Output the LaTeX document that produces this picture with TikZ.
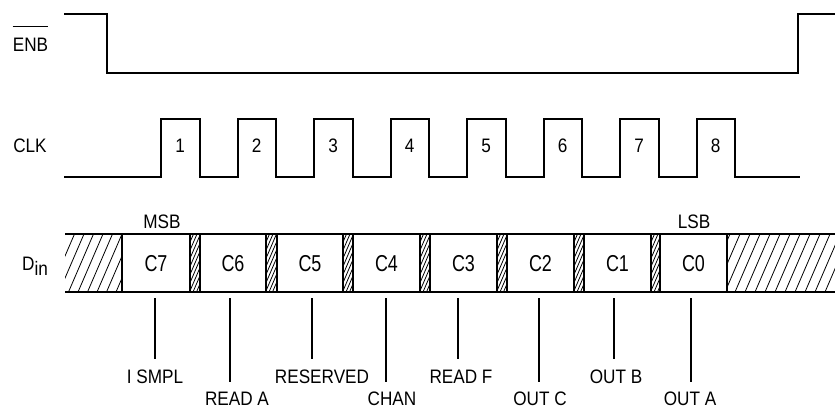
\documentclass[tikz,border=0pt]{standalone}
\usepackage{fontspec}
\setmainfont{Liberation Sans}[FakeStretch=0.88]
\newfontfamily\boxfont{Liberation Sans}[FakeStretch=0.78]
\begin{document}
\begin{tikzpicture}[x=1pt,y=-1pt,
  sig/.style={line width=2pt, line join=miter},
  tick/.style={line width=1.1pt},
  hatchline/.style={line width=0.8pt},
  lbl/.style={font=\fontsize{19.5}{20}\selectfont, inner sep=0pt, anchor=base},
  boxlbl/.style={font=\boxfont\fontsize{23}{24}\selectfont, inner sep=0pt, anchor=base}]
\useasboundingbox (0,0) rectangle (835,408);

% ENB
\draw[sig] (64,14) -- (107,14) -- (107,73) -- (798,73) -- (798,14) -- (835,14);
\node[lbl] (enb) at (30.5,51) {ENB};
\draw[line width=1.1pt] ([yshift=11pt]enb.north west) -- ([yshift=11pt]enb.north east);

% CLK
\node[lbl] (clk) at (30,152) {CLK};
\draw[sig] (64,177) foreach \i in {0,...,7} {
  -- ({161+76.5*\i},177) -- ({161+76.5*\i},119) -- ({199.5+76.5*\i},119) -- ({199.5+76.5*\i},177)
} -- (800,177);
\foreach \i in {0,...,7} {
  \pgfmathtruncatemacro{\n}{\i+1}
  \node[lbl] (p\n) at ({180.25+76.5*\i},152) {\n};
}

% Din hatching
\begin{scope}
  \clip (65,234) rectangle (122,292);
  \foreach \k in {0,...,9} \draw[hatchline] ({40+9.5*\k},292) -- ({65+9.5*\k},234);
\end{scope}
\begin{scope}
  \clip (727,234) rectangle (835,292);
  \foreach \k in {0,...,14} \draw[hatchline] ({705+10*\k},292) -- ({730+10*\k},234);
\end{scope}
\foreach \a/\b in {190/200,266/277,343/353,420/430,497/507,574/584,651/660} {
  \begin{scope}
    \clip (\a,234) rectangle (\b,292);
    \foreach \k in {0,...,18} \draw[hatchline] ({\a-25+3.5*\k},292) -- ({\a-25+3.5*\k+25},234);
  \end{scope}
}

% Din outline
\draw[sig] (65,234) -- (835,234);
\draw[sig] (65,292) -- (835,292);
\foreach \x in {122,190,200,266,277,343,353,420,430,497,507,574,584,651,660,727}
  \draw[sig] (\x,234) -- (\x,292);

\node[lbl, anchor=base west] (din) at (22,270) {D\raisebox{-5pt}{in}};
\node[lbl] (msb) at (162,228) {MSB};
\node[lbl] (lsb) at (694,228) {LSB};

\foreach \t/\x in {C7/156,C6/233,C5/310,C4/386.5,C3/463.5,C2/540.5,C1/617.5,C0/693.5}
  \node[boxlbl] (b\t) at (\x,271) {\t};

% field labels
\node[lbl] (l7) at (155,383) {I SMPL};
\node[lbl] (l6) at (237,405) {READ A};
\node[lbl] (l5) at (322,383) {RESERVED};
\node[lbl] (l4) at (392,405) {CHAN};
\node[lbl] (l3) at (461,383) {READ F};
\node[lbl] (l2) at (540,405) {OUT C};
\node[lbl] (l1) at (616,383) {OUT B};
\node[lbl] (l0) at (690,405) {OUT A};

\foreach \x in {155,312,458,614} \draw[tick] (\x,298) -- (\x,359);
\foreach \x in {230,386,539,691} \draw[tick] (\x,298) -- (\x,382);
\end{tikzpicture}
\end{document}
